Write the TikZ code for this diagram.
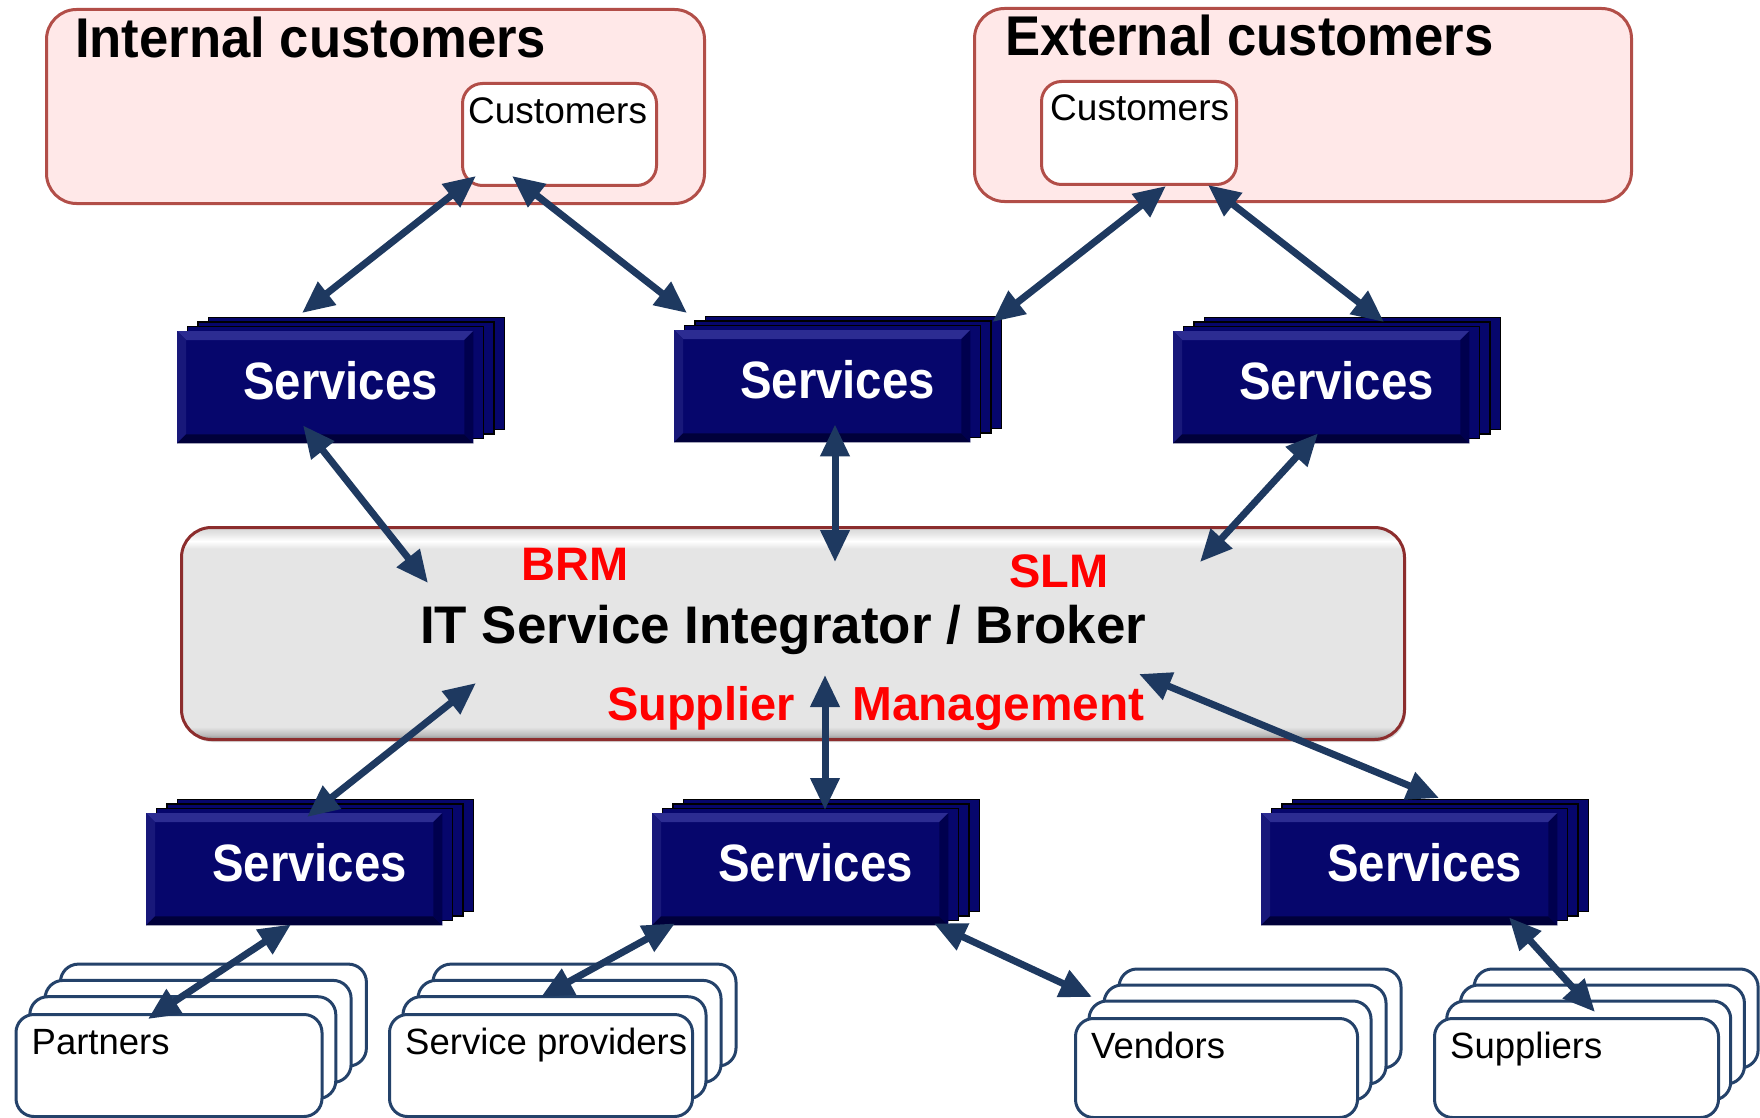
\documentclass[tikz,border=0pt]{standalone}
\usepackage{fontspec}
\setmainfont{Liberation Sans}
\usepackage{graphicx}
\usetikzlibrary{arrows.meta,calc}

\definecolor{navyface}{RGB}{6,6,108}
\definecolor{bevlight}{RGB}{44,44,146}
\definecolor{bevmid}{RGB}{24,24,122}
\definecolor{bevdark}{RGB}{0,0,58}
\definecolor{bevright}{RGB}{0,0,78}
\definecolor{grpfill}{RGB}{255,232,232}
\definecolor{grpline}{RGB}{178,78,72}
\definecolor{brokerline}{RGB}{140,45,45}
\definecolor{paperline}{RGB}{36,66,106}
\definecolor{arrowblue}{RGB}{30,57,96}
\definecolor{labelred}{RGB}{255,0,0}
\definecolor{bkrim}{RGB}{130,130,130}
\definecolor{bklow}{RGB}{185,185,185}
\definecolor{bkmid}{RGB}{229,229,229}
\definecolor{bktop}{RGB}{214,214,214}

% flat grey face with a lit upper edge and a shaded lower rim
% (the path is mapped onto the 25bp--75bp band)
\pgfdeclareverticalshading{brokershade}{100bp}{%
  color(0bp)=(bkrim); color(25bp)=(bkrim); color(26bp)=(bklow);
  color(28bp)=(bkmid); color(70bp)=(bkmid); color(71.8bp)=(white);
  color(73.6bp)=(bkmid); color(75bp)=(bktop); color(100bp)=(bktop)}

\tikzset{
  grp/.style={draw=grpline, fill=grpfill, line width=3pt, rounded corners=30pt, inner sep=0pt, anchor=north west},
  cust/.style={draw=grpline, fill=white, line width=3pt, rounded corners=20pt, inner sep=0pt, anchor=north west},
  svcback/.style={fill=navyface, draw=black, line width=1.2pt},
  svcface/.style={fill=navyface, inner sep=0pt, minimum width=296pt, minimum height=112pt},
  svclabel/.style={anchor=base, inner sep=0pt, text=white, font=\bfseries\fontsize{52.6pt}{56pt}\selectfont},
  paper/.style={draw=paperline, fill=white, line width=3pt, rounded corners=18pt},
  papertext/.style={anchor=base west, inner sep=0pt, font=\fontsize{36.5pt}{40pt}\selectfont},
  custtext/.style={anchor=base west, inner sep=0pt, font=\fontsize{37pt}{40pt}\selectfont},
  grptitle/.style={anchor=base west, inner sep=0pt, font=\bfseries\fontsize{56pt}{60pt}\selectfont},
  redlabel/.style={anchor=base west, inner sep=0pt, text=labelred, font=\bfseries\fontsize{47pt}{50pt}\selectfont},
  link/.style={draw=arrowblue, line width=7pt,
    arrows={Triangle[length=32pt,width=28pt]-Triangle[length=32pt,width=28pt]}},
}

% stack of service cards: name, x, y of the front face (top-left corner)
\newcommand\svcstack[3]{%
  \foreach \k in {3,2,1}{%
    \draw[svcback] ([shift={(\k*10.5,-\k*4.5)}]#2,#3) rectangle ++(296,112);
  }%
  \node[svcface, anchor=north west] (#1) at (#2,#3) {};
  \fill[bevlight] (#1.north west) -- (#1.north east) -- ([shift={(-9,9)}]#1.north east) -- ([shift={(9,9)}]#1.north west) -- cycle;
  \fill[bevmid] (#1.north west) -- ([shift={(9,9)}]#1.north west) -- ([shift={(9,-9)}]#1.south west) -- (#1.south west) -- cycle;
  \fill[bevdark] (#1.south west) -- ([shift={(9,-9)}]#1.south west) -- ([shift={(-9,-9)}]#1.south east) -- (#1.south east) -- cycle;
  \fill[bevright] (#1.north east) -- ([shift={(-9,9)}]#1.north east) -- ([shift={(-9,-9)}]#1.south east) -- (#1.south east) -- cycle;
  \node[svclabel] (#1t) at ([shift={(163.5,68)}]#1.north west) {\scalebox{0.9}[1]{Services}};
}

% stack of white cards: name, x, y, width, height, layer dx, layer dy, label
\newcommand\paperstack[8]{%
  \foreach \k in {3,2,1}{%
    \draw[paper] ([shift={(\k*#6,-\k*#7)}]#2,#3) rectangle ++(#4,#5);
  }%
  \node[paper, inner sep=0pt, anchor=north west, minimum width=#4pt, minimum height=#5pt] (#1) at (#2,#3) {};
  \node[papertext] (#1t) at ([shift={(17,41)}]#1.north west) {#8};
}

\begin{document}
\begin{tikzpicture}[x=1pt,y=-1pt]
\useasboundingbox (0,0) rectangle (1760,1118);

% customer groups
\node[grp, minimum width=658pt, minimum height=194pt] (ig) at (45,8) {};
\node[grp, minimum width=657pt, minimum height=193pt] (eg) at (973,7) {};
\node[grptitle] (igt) at (75,58) {\scalebox{0.94}[1]{Internal customers}};
\node[grptitle] (egt) at (1005,56) {\scalebox{0.94}[1]{External customers}};
\node[cust, minimum width=194pt, minimum height=102pt] (ci) at (461,82) {};
\node[cust, minimum width=195pt, minimum height=103pt] (ce) at (1040,80) {};
\node[custtext] (cit) at (468,124) {Customers};
\node[custtext] (cet) at (1050,121) {Customers};

% service stacks
\svcstack{s1}{177}{331}
\svcstack{s2}{674}{330}
\svcstack{s3}{1173}{331}
\svcstack{s4}{146}{813}
\svcstack{s5}{652}{813}
\svcstack{s6}{1261}{813}

% integrator / broker
\fill[black!30, opacity=0.5, rounded corners=30pt] (183,531) rectangle (1406,742);
\node[anchor=north west, inner sep=0pt, minimum width=1223pt, minimum height=212pt,
      rounded corners=30pt, draw=brokerline, line width=3pt,
      shading=brokershade] (broker) at (180,526) {};
\node[anchor=base west, inner sep=0pt, font=\bfseries\fontsize{52.9pt}{56pt}\selectfont] (brokert) at (420,643) {IT Service Integrator / Broker};
\node[redlabel] (brm) at (521,580) {BRM};
\node[redlabel] (slm) at (1009,587) {SLM};
\node[redlabel] (supl) at (607,720) {Supplier};
\node[redlabel, font=\bfseries\fontsize{47.8pt}{50pt}\selectfont] (mgmt) at (852,720) {Management};

% providers
\paperstack{pa}{14.5}{1013}{306}{102}{15.3}{16.3}{Partners}
\paperstack{sp}{388}{1013}{303}{102}{15}{16.3}{Service providers}
\paperstack{ve}{1074}{1017}{282}{99}{15}{16}{Vendors}
\paperstack{su}{1433}{1017}{284}{99}{13.7}{16}{Suppliers}

% connectors
\draw[link] ([shift={(15,-11)}]ci.south west) -- ([shift={(125,-18)}]s1.north west);
\draw[link] ([shift={(51,-11)}]ci.south west) -- ([shift={(13,-17)}]s2.north west);
\draw[link] ([shift={(126,0)}]ce.south west) -- ([shift={(22,-8)}]s2.north east);
\draw[link] ([shift={(168,-1)}]ce.south west) -- ([shift={(211,-9)}]s3.north west);
\draw[link] ([shift={(126,-18)}]s1.south west) -- ([shift={(248,57)}]broker.north west);
\draw[link] ([shift={(161,-18)}]s2.south west) -- ([shift={(655,36)}]broker.north west);
\draw[link] ([shift={(145,-10)}]s3.south west) -- ([shift={(1020,36)}]broker.north west);
\draw[link] ([shift={(296,-58)}]broker.south west) -- ([shift={(161,4)}]s4.north west);
\draw[link] ([shift={(645,-66)}]broker.south west) -- ([shift={(173,-3)}]s5.north west);
\draw[link] ([shift={(959,-67)}]broker.south west) -- ([shift={(178,-15)}]s6.north west);
\draw[link] ([shift={(145,-1)}]s4.south west) -- ([shift={(133.5,6)}]pa.north west);
\draw[link] ([shift={(23,-2)}]s5.south west) -- ([shift={(153,-16)}]sp.north west);
\draw[link] ([shift={(282,-2)}]s5.south west) -- ([shift={(18,-20)}]ve.north west);
\draw[link] ([shift={(248,-8)}]s6.south west) -- ([shift={(162,-5)}]su.north west);
\end{tikzpicture}
\end{document}
